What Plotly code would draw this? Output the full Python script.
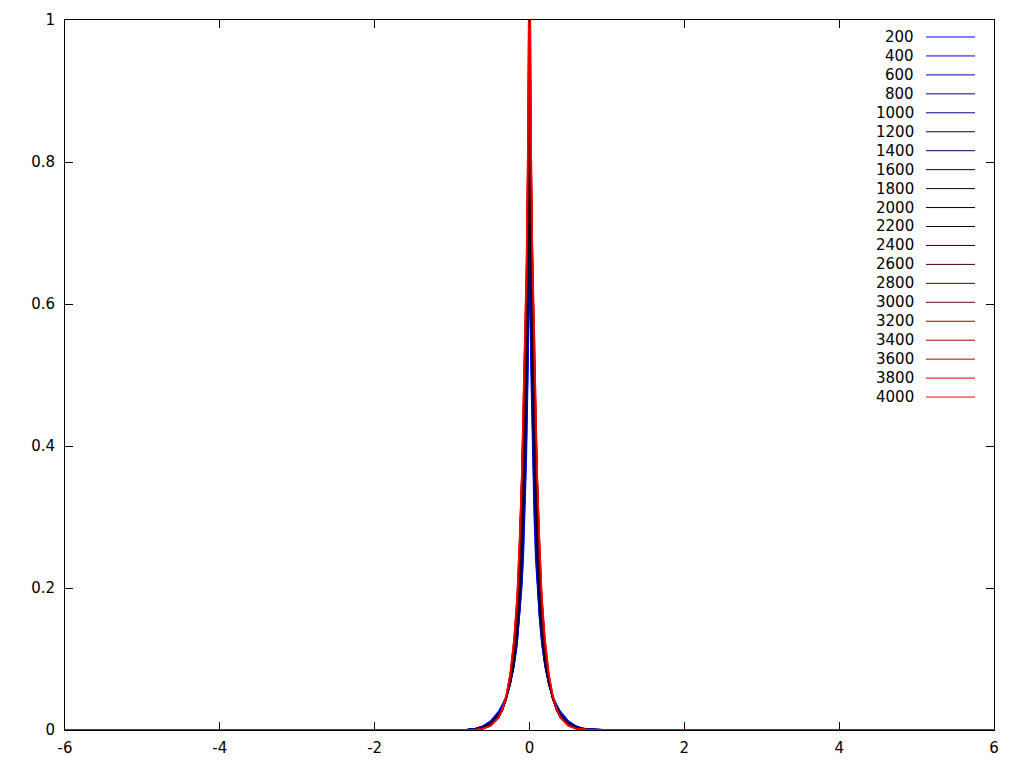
import plotly.graph_objects as go

# shared right-half abscissa (profiles are mirrored to x<0)
x_half = [0, 0.02, 0.04, 0.06, 0.08, 0.10, 0.13, 0.16, 0.20, 0.25, 0.30, 0.35, 0.40, 0.50, 0.60, 0.70, 0.80, 1.00, 6.00]

labels = ["200", "400", "600", "800", "1000", "1200", "1400", "1600", "1800", "2000",
          "2200", "2400", "2600", "2800", "3000", "3200", "3400", "3600", "3800", "4000"]

x_ticks = [-6, -4, -2, 0, 2, 4, 6]
x_ticktext = ["-6", "-4", "-2", "0", "2", "4", "6"]
y_ticks = [0, 0.2, 0.4, 0.6, 0.8, 1]
y_ticktext = ["0", "0.2", "0.4", "0.6", "0.8", "1"]

y200  = [0.66, 0.50, 0.38, 0.30, 0.24, 0.20, 0.155, 0.120, 0.090, 0.065, 0.048, 0.036, 0.026, 0.013, 0.006, 0.002, 0.001, 0, 0]
y400  = [0.68, 0.52, 0.40, 0.32, 0.25, 0.205, 0.158, 0.122, 0.090, 0.064, 0.047, 0.035, 0.025, 0.012, 0.005, 0.002, 0.001, 0, 0]
y600  = [0.70, 0.54, 0.42, 0.33, 0.27, 0.215, 0.162, 0.125, 0.091, 0.064, 0.046, 0.034, 0.024, 0.011, 0.005, 0.002, 0.001, 0, 0]
y800  = [0.72, 0.56, 0.44, 0.35, 0.28, 0.225, 0.167, 0.128, 0.092, 0.064, 0.045, 0.033, 0.023, 0.011, 0.005, 0.002, 0.001, 0, 0]
y1000 = [0.74, 0.58, 0.46, 0.37, 0.30, 0.235, 0.172, 0.131, 0.093, 0.064, 0.045, 0.032, 0.022, 0.010, 0.004, 0.002, 0.001, 0, 0]
y1200 = [0.77, 0.60, 0.48, 0.39, 0.31, 0.245, 0.178, 0.134, 0.095, 0.065, 0.044, 0.031, 0.021, 0.010, 0.004, 0.001, 0.0005, 0, 0]
y1400 = [0.80, 0.62, 0.50, 0.40, 0.33, 0.255, 0.184, 0.137, 0.097, 0.065, 0.044, 0.030, 0.021, 0.009, 0.004, 0.001, 0.0005, 0, 0]
y1600 = [0.83, 0.64, 0.52, 0.42, 0.34, 0.265, 0.190, 0.141, 0.099, 0.066, 0.044, 0.030, 0.020, 0.009, 0.003, 0.001, 0.0005, 0, 0]
y1800 = [0.86, 0.66, 0.53, 0.43, 0.35, 0.275, 0.197, 0.145, 0.101, 0.067, 0.044, 0.029, 0.020, 0.008, 0.003, 0.001, 0.0005, 0, 0]
y2000 = [0.88, 0.68, 0.55, 0.45, 0.37, 0.285, 0.204, 0.149, 0.103, 0.068, 0.044, 0.029, 0.019, 0.008, 0.003, 0.001, 0, 0, 0]
y2200 = [0.91, 0.70, 0.56, 0.46, 0.38, 0.295, 0.211, 0.154, 0.106, 0.069, 0.044, 0.028, 0.019, 0.008, 0.003, 0.001, 0, 0, 0]
y2400 = [0.94, 0.72, 0.58, 0.48, 0.39, 0.305, 0.218, 0.158, 0.108, 0.070, 0.044, 0.028, 0.018, 0.007, 0.003, 0.001, 0, 0, 0]
y2600 = [0.97, 0.74, 0.59, 0.49, 0.40, 0.315, 0.225, 0.163, 0.111, 0.071, 0.045, 0.028, 0.018, 0.007, 0.002, 0.001, 0, 0, 0]
y2800 = [1.00, 0.76, 0.60, 0.50, 0.41, 0.325, 0.232, 0.167, 0.113, 0.072, 0.045, 0.028, 0.018, 0.007, 0.002, 0.001, 0, 0, 0]
y3000 = [1.04, 0.77, 0.61, 0.52, 0.42, 0.333, 0.239, 0.172, 0.116, 0.073, 0.046, 0.028, 0.017, 0.006, 0.002, 0.0005, 0, 0, 0]
y3200 = [1.08, 0.79, 0.62, 0.53, 0.43, 0.340, 0.245, 0.176, 0.119, 0.075, 0.046, 0.028, 0.017, 0.006, 0.002, 0.0005, 0, 0, 0]
y3400 = [1.12, 0.80, 0.63, 0.54, 0.44, 0.347, 0.252, 0.180, 0.122, 0.076, 0.047, 0.029, 0.017, 0.006, 0.002, 0.0005, 0, 0, 0]
y3600 = [1.16, 0.82, 0.64, 0.55, 0.45, 0.353, 0.258, 0.184, 0.125, 0.077, 0.048, 0.029, 0.017, 0.006, 0.002, 0.0005, 0, 0, 0]
y3800 = [1.20, 0.84, 0.65, 0.57, 0.46, 0.358, 0.264, 0.188, 0.128, 0.079, 0.049, 0.030, 0.018, 0.006, 0.002, 0.0005, 0, 0, 0]
y4000 = [1.25, 0.85, 0.66, 0.58, 0.47, 0.362, 0.270, 0.190, 0.130, 0.080, 0.050, 0.030, 0.018, 0.006, 0.002, 0.0005, 0, 0, 0]

series = [y200, y400, y600, y800, y1000, y1200, y1400, y1600, y1800, y2000,
          y2200, y2400, y2600, y2800, y3000, y3200, y3400, y3600, y3800, y4000]

colors = ["#0000ff", "#0000e4", "#0000c8", "#0000ac", "#000090", "#000074", "#000058", "#00003c",
          "#000020", "#000000", "#180000", "#300000", "#480000", "#600000", "#780000", "#900000",
          "#a80000", "#c00000", "#d80000", "#ff0000"]

fig = go.Figure()
for lab, yh, col in zip(labels, series, colors):
    xs = [-v for v in reversed(x_half[1:])] + x_half
    ys = list(reversed(yh[1:])) + yh
    fig.add_trace(go.Scatter(x=xs, y=ys, mode="lines", name=lab,
                             line=dict(color=col, width=1.3), showlegend=False))

FONT = "DejaVu Sans"
FS = 15
OFF = 8  # page body margin offset
W, H = 1008, 752
L, T = 65 - OFF, 20 - OFF
R = OFF + W - 994
B = OFF + H - 730
pw, ph = W - L - R, H - T - B
for k, (lab, col) in enumerate(zip(labels, colors)):
    ypx = 37 + 18.95 * k
    yp = (730 - ypx) / ph
    fig.add_annotation(xref="paper", yref="paper", x=(916 - 65) / pw, y=yp, text=lab,
                       showarrow=False, xanchor="right", yanchor="middle",
                       font=dict(family=FONT, size=FS, color="black"))
    fig.add_shape(type="line", xref="paper", yref="paper",
                  x0=(926 - 65) / pw, x1=(975 - 65) / pw, y0=yp, y1=yp,
                  line=dict(color=col, width=1))

axis_common = dict(showgrid=False, zeroline=False, showline=True, linecolor="black",
                   linewidth=1, mirror="ticks", ticks="inside", ticklen=8, automargin=False,
                   tickcolor="black", tickfont=dict(family=FONT, size=FS, color="black"))
fig.update_xaxes(range=[-6, 6], tickvals=x_ticks, ticktext=x_ticktext, ticklabelstandoff=4, **axis_common)
fig.update_yaxes(range=[0, 1], tickvals=y_ticks, ticktext=y_ticktext, ticklabelstandoff=6, **axis_common)
fig.update_layout(width=W, height=H, plot_bgcolor="white", paper_bgcolor="white",
                  margin=dict(l=L, r=R, t=T, b=B), showlegend=False)
fig.write_html("out.html")
